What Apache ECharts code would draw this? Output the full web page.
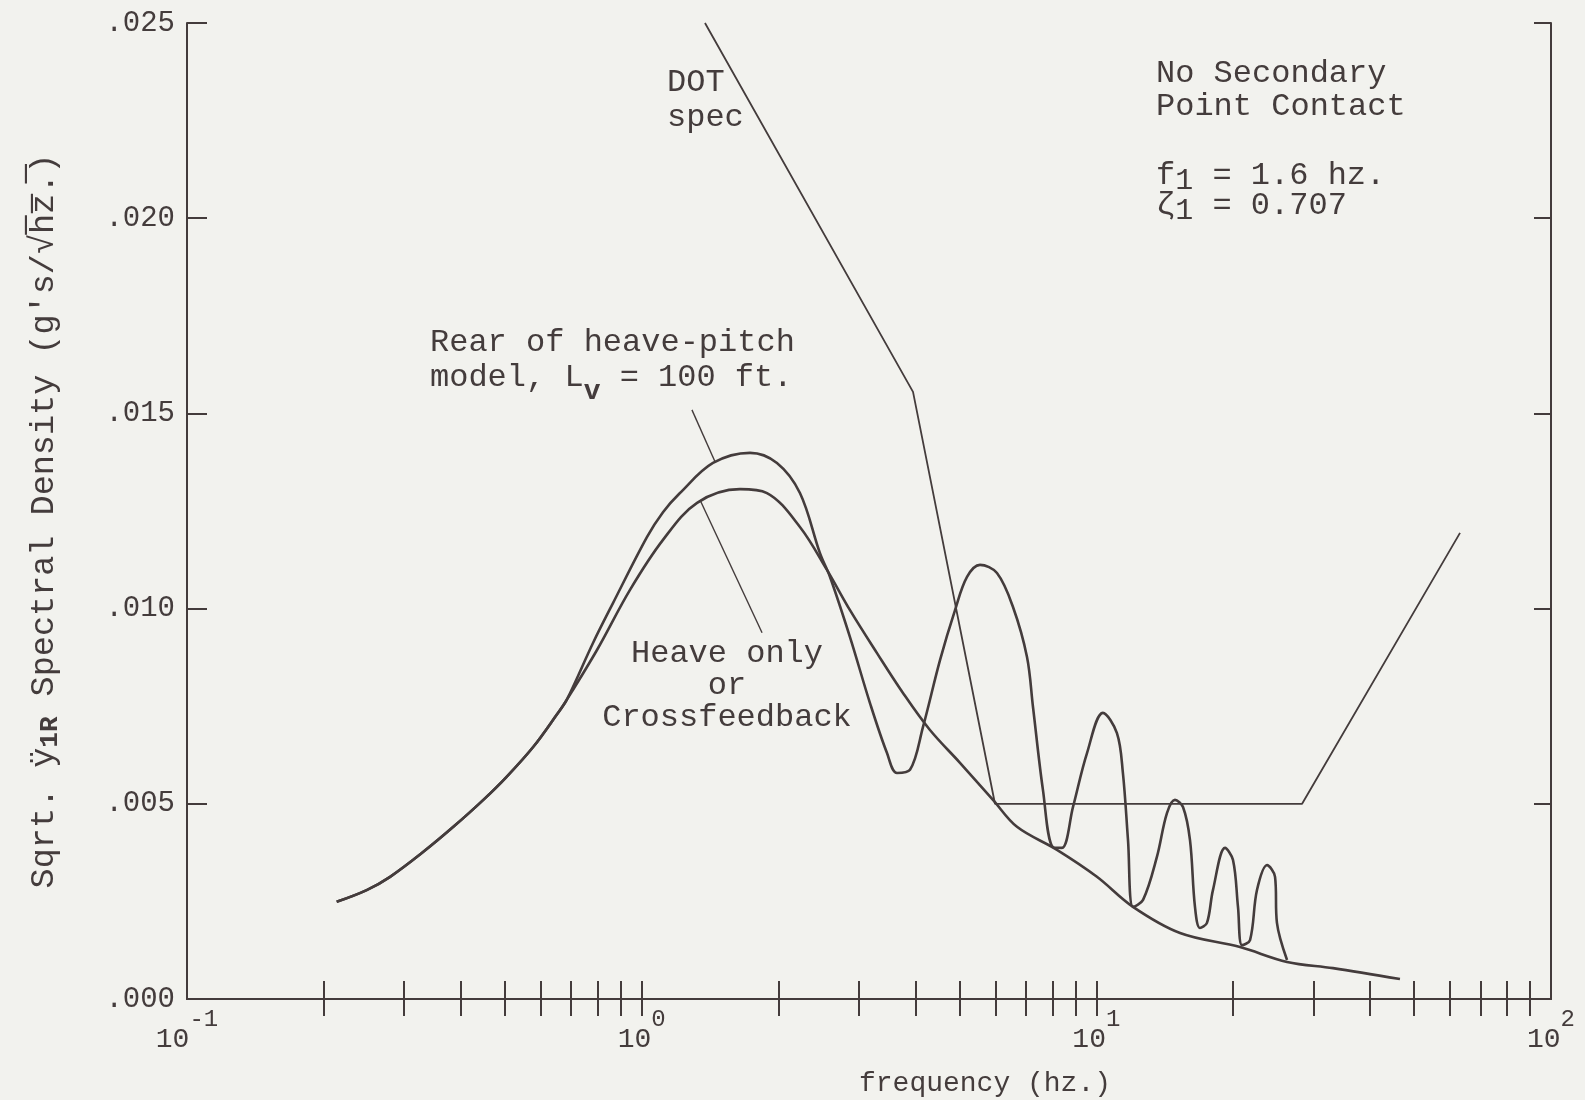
<!DOCTYPE html>
<html>
<head>
<meta charset="utf-8">
<script src="https://cdn.jsdelivr.net/npm/echarts@6/dist/echarts.min.js"></script>
<style>
html,body{margin:0;padding:0;background:#f2f2ee;}
#c{width:1585px;height:1100px;}
</style>
</head>
<body>
<div id="c"></div>
<script>
// ---------- data ----------
// shared low-frequency part of both response curves (hz, g's/sqrt(hz))
const commonFreq = [0.2134, 0.2484, 0.2797, 0.3310, 0.3853, 0.4485, 0.5046, 0.5778, 0.6502, 0.6840];
const commonVal  = [0.00249, 0.00279, 0.00313, 0.00377, 0.00441, 0.00510, 0.00569, 0.00646, 0.00728, 0.00766];

// "Heave only or Crossfeedback" curve
const heaveFreq = [0.7975, 0.9426, 1.114, 1.324, 1.645, 1.886, 2.229, 2.556, 2.872, 3.293, 3.756, 4.306,
                   5.013, 5.925, 6.691, 8.193, 10.03, 12.04, 15.28, 20.70, 26.27, 33.15, 46.54];
const heaveVal  = [0.00894, 0.01048, 0.01176, 0.01271, 0.01306, 0.01296, 0.01209, 0.01099, 0.00996, 0.00886, 0.00784, 0.00689,
                   0.00605, 0.00510, 0.00441, 0.00382, 0.00313, 0.00236, 0.00169, 0.00133, 0.00095, 0.00079, 0.00051];

// "Rear of heave-pitch model, Lv = 100 ft." curve
const rearFreq = [0.7816, 0.8648, 1.027, 1.114, 1.214, 1.435, 1.731, 1.984, 2.229, 2.467, 2.596, 2.872, 3.178,
                  3.464, 3.644, 3.892, 4.157, 4.531, 4.889, 5.195, 5.548, 6.046, 6.557, 7.039, 7.256,
                  7.632, 8.028, 8.402, 8.886, 9.539, 10.34, 11.10, 11.44, 11.74, 12.04, 12.67, 13.59,
                  14.30, 14.89, 15.51, 16.07, 16.48, 16.90, 17.51, 18.05, 19.19, 19.98, 20.49, 20.91,
                  21.78, 22.56, 23.74, 24.72, 24.96, 26.27];
const rearVal  = [0.00912, 0.01014, 0.01183, 0.01247, 0.01296, 0.01373, 0.01399, 0.01373, 0.01296, 0.01142, 0.01081, 0.00927, 0.00758,
                  0.00630, 0.00579, 0.00587, 0.00697, 0.00868, 0.00996, 0.01081, 0.01112, 0.01091, 0.01004, 0.00876, 0.00748,
                  0.00535, 0.00389, 0.00387, 0.00492, 0.00630, 0.00733, 0.00681, 0.00579, 0.00407, 0.00236, 0.00254, 0.00364,
                  0.00476, 0.00510, 0.00492, 0.00407, 0.00236, 0.00182, 0.00195, 0.00279, 0.00387, 0.00356, 0.00236, 0.00138,
                  0.00151, 0.00279, 0.00343, 0.00313, 0.00195, 0.00100];

// DOT spec boundary
const dotFreq = [1.378, 3.952, 5.985, 28.35, 63.08];
const dotVal  = [0.025, 0.01555, 0.00500, 0.00500, 0.01194];

// annotation leader lines
const rearLeaderFreq  = [1.290, 1.450];
const rearLeaderVal   = [0.01509, 0.01376];
const heaveLeaderFreq = [1.344, 1.840];
const heaveLeaderVal  = [0.01278, 0.00938];

// axis ticks / labels
const xTickValues  = [0.2,0.3,0.4,0.5,0.6,0.7,0.8,0.9,1,2,3,4,5,6,7,8,9,10,20,30,40,50,60,70,80,90];
const xLabelValues = [0.1, 1, 10, 100];
const yTickLabels  = ['.000', '.005', '.010', '.015', '.020', '.025'];

// ---------- chart ----------
const FONT = 'Liberation Mono';
const INK = '#443c3c';
const pair = (fs, vs) => fs.map((f, i) => [f, vs[i]]);

const chart = echarts.init(document.getElementById('c'), null, {renderer: 'canvas', width: 1585, height: 1100});

const tickStyle = {color: INK, width: 2};
const xAxisBase = {
  type: 'log', logBase: 10, min: 0.1, max: 100,
  axisLine: {show: true, lineStyle: {color: INK, width: 2}},
  axisTick: {show: true, inside: true, length: 18, lineStyle: tickStyle, customValues: xTickValues},
  minorTick: {show: false},
  splitLine: {show: false}
};
const yAxisBase = {
  type: 'value', min: 0, max: 0.025, interval: 0.005,
  axisLine: {show: true, lineStyle: {color: INK, width: 2}},
  axisTick: {show: true, inside: true, length: 20, lineStyle: tickStyle},
  splitLine: {show: false}
};

const curveStyle = {color: INK, width: 2.6};
const lineSeries = (name, data, style, smooth) => ({
  name, type: 'line', data, showSymbol: false, symbol: 'none', smooth: smooth,
  lineStyle: style, z: 3, silent: true
});

const option = {
  backgroundColor: '#f2f2ee',
  animation: false,
  grid: {left: 187, right: 34, top: 23, bottom: 101, containLabel: false, outerBoundsMode: 'none'},
  xAxis: [
    Object.assign({}, xAxisBase, {
      position: 'bottom',
      axisLabel: {
        show: true, customValues: xLabelValues, margin: 25,
        formatter: v => '{b|10}{s|' + Math.round(Math.log10(v)) + '}',
        rich: {
          b: {fontFamily: FONT, fontSize: 28, color: INK, lineHeight: 30, verticalAlign: 'bottom'},
          s: {fontFamily: FONT, fontSize: 24, color: INK, lineHeight: 24, padding: [0, 0, 22, 0], verticalAlign: 'bottom'}
        }
      },
      name: 'frequency (hz.)', nameLocation: 'middle', nameGap: 71,
      nameTextStyle: {fontFamily: FONT, fontSize: 28, color: INK, padding: [0, 0, 0, 232]}
    }),
    Object.assign({}, xAxisBase, {position: 'top', axisLabel: {show: false}, axisTick: {show: true, inside: true, length: 17, lineStyle: tickStyle, customValues: xTickValues}})
  ],
  yAxis: [
    Object.assign({}, yAxisBase, {
      position: 'left',
      axisLabel: {margin: 12, fontFamily: FONT, fontSize: 29, color: INK,
        formatter: v => yTickLabels[Math.round(v / 0.005)]},
      name: "{n|Sqrt. ÿ}{sb|1R}{n| Spectral Density (g's/√h\u0305z\u0305.\u0305)}",
      nameLocation: 'middle', nameRotate: 90, nameGap: 123,
      nameTextStyle: {
        padding: [0, 20, 0, 0],
        rich: {
          n: {fontFamily: FONT, fontSize: 33.5, color: INK, lineHeight: 37, padding: [0, 0, 10, 0], verticalAlign: 'top'},
          sb: {fontFamily: FONT, fontSize: 26, fontWeight: 'bold', color: INK, lineHeight: 37, padding: [10, 0, 0, 0], verticalAlign: 'top'}
        }
      }
    }),
    Object.assign({}, yAxisBase, {position: 'right', axisLabel: {show: false}, axisTick: {show: true, inside: true, length: 17, lineStyle: tickStyle}})
  ],
  series: [
    lineSeries('Heave only or Crossfeedback', pair(commonFreq.concat(heaveFreq), commonVal.concat(heaveVal)), curveStyle, 0.35),
    lineSeries('Rear of heave-pitch model', pair(commonFreq.concat(rearFreq), commonVal.concat(rearVal)), curveStyle, 0.35),
    lineSeries('DOT spec', pair(dotFreq, dotVal), {color: INK, width: 1.8}, false),
    lineSeries('rear leader', pair(rearLeaderFreq, rearLeaderVal), {color: INK, width: 1.4}, false),
    lineSeries('heave leader', pair(heaveLeaderFreq, heaveLeaderVal), {color: INK, width: 1.4}, false)
  ],
  graphic: [
    {type: 'text', x: 667, y: 65, z: 10, style: {text: 'DOT\nspec', fontFamily: FONT, fontSize: 32, lineHeight: 35, fill: INK, verticalAlign: 'top', textVerticalAlign: 'top'}},
    {type: 'text', x: 1156, y: 57, z: 10, style: {text: 'No Secondary\nPoint Contact', fontFamily: FONT, fontSize: 32, lineHeight: 33, fill: INK, verticalAlign: 'top', textVerticalAlign: 'top'}},
    {type: 'text', x: 1156, y: 160, z: 10, style: {
      text: '{n|f}{s|1}{n| = 1.6 hz.}', fill: INK, verticalAlign: 'top', textVerticalAlign: 'top',
      rich: {n: {fontFamily: FONT, fontSize: 32, lineHeight: 33, padding: [0, 0, 6, 0], verticalAlign: 'top', fill: INK},
             s: {fontFamily: FONT, fontSize: 30, lineHeight: 33, padding: [6, 0, 0, 0], verticalAlign: 'top', fill: INK}}}},
    {type: 'text', x: 1156, y: 190, z: 10, style: {
      text: '{n|ζ}{s|1}{n| = 0.707}', fill: INK, verticalAlign: 'top', textVerticalAlign: 'top',
      rich: {n: {fontFamily: FONT, fontSize: 32, lineHeight: 33, padding: [0, 0, 6, 0], verticalAlign: 'top', fill: INK},
             s: {fontFamily: FONT, fontSize: 30, lineHeight: 33, padding: [6, 0, 0, 0], verticalAlign: 'top', fill: INK}}}},
    {type: 'text', x: 430, y: 326, z: 10, style: {text: 'Rear of heave-pitch', fontFamily: FONT, fontSize: 32, lineHeight: 33, fill: INK, verticalAlign: 'top', textVerticalAlign: 'top'}},
    {type: 'text', x: 430, y: 362, z: 10, style: {
      text: '{n|model, L}{s|v}{n| = 100 ft.}', fill: INK, verticalAlign: 'top', textVerticalAlign: 'top',
      rich: {n: {fontFamily: FONT, fontSize: 32, lineHeight: 33, padding: [0, 0, 16, 0], verticalAlign: 'top', fill: INK},
             s: {fontFamily: FONT, fontSize: 28, fontWeight: 'bold', lineHeight: 33, padding: [16, 0, 0, 0], verticalAlign: 'top', fill: INK}}}},
    {type: 'text', x: 727, y: 638, z: 10, style: {text: 'Heave only\nor\nCrossfeedback', fontFamily: FONT, fontSize: 32, lineHeight: 32, fill: INK, align: 'center', textAlign: 'center', verticalAlign: 'top', textVerticalAlign: 'top'}}
  ]
};
chart.setOption(option);
</script>
</body>
</html>
